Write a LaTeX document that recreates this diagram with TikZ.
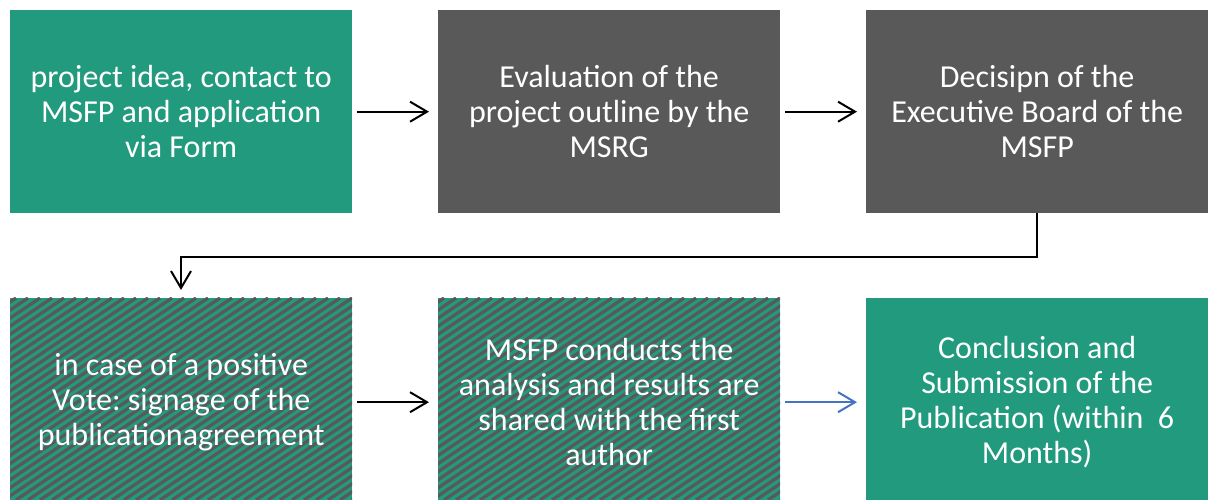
\documentclass[tikz,border=0pt]{standalone}
\usepackage{fontspec}
\setmainfont{Carlito}
\frenchspacing
\usetikzlibrary{arrows.meta}
\definecolor{msgreen}{HTML}{229A7E}
\definecolor{msgray}{HTML}{595959}
\definecolor{msblue}{HTML}{4472C4}
\tikzset{
  box/.style={minimum width=342pt, minimum height=203pt, inner sep=0pt, text=white,
    align=center, font=\fontsize{32}{35}\selectfont, anchor=north west},
  greenbox/.style={box, fill=msgreen},
  graybox/.style={box, fill=msgray},
  textbox/.style={box, minimum height=196pt},
  conn/.style={line width=2pt, -{Straight Barb[length=17pt,width=20pt,line width=2pt]}, shorten <=5pt, shorten >=9pt},
}
\newcommand{\stripes}[4]{% x0 y0 w h (y0 = bottom)
  \begin{scope}
    \clip (#1,#2) rectangle ++(#3,#4);
    \fill[msgreen] (#1,#2) rectangle ++(#3,#4);
    \foreach \c in {-330,-318,...,360}{
      \draw[msgray, line width=3.3pt] ({#1+\c},#2) -- ++(300,#4);
    }
  \end{scope}}
\begin{document}
\begin{tikzpicture}[x=1pt,y=1pt]
\useasboundingbox (0,0) rectangle (1208,500);
\fill[white] (0,0) rectangle (1208,500);
% row 1
\node[greenbox] (b1) at (10,490) {project idea, contact to\\MSFP and application\\via Form};
\node[graybox] (b2) at (438,490) {Evaluation of the\\project outline by the\\MSRG};
\node[graybox] (b3) at (866,490) {Decisipn of the\\Executive Board of the\\MSFP};
% row 2 backgrounds
\stripes{10}{0}{342}{202}
\stripes{438}{0}{342}{202}
\fill[msgreen] (866,0) rectangle (1208,202);
\node[textbox] (b4) at (10,196) {in case of a positive\\Vote: signage of the\\publicationagreement};
\node[textbox] (b5) at (438,196) {MSFP conducts the\\analysis and results are\\shared with the first\\author};
\node[textbox] (b6) at (866,196) {Conclusion and\\Submission of the\\Publication (within\ \ 6\\Months)};
\coordinate (b4top) at (181,202);
% connectors
\draw[conn] (b1.east) -- (b2.west);
\draw[conn] (b2.east) -- (b3.west);
\draw[conn] (b4.east) -- (b5.west);
\draw[conn, msblue] (b5.east) -- (b6.west);
\coordinate (turn) at (0,243);
\draw[line width=2pt, -{Straight Barb[length=17pt,width=20pt,line width=2pt]}, shorten >=8pt]
  (b3.south) |- (turn -| b4top) -- (b4top);
\end{tikzpicture}
\end{document}
